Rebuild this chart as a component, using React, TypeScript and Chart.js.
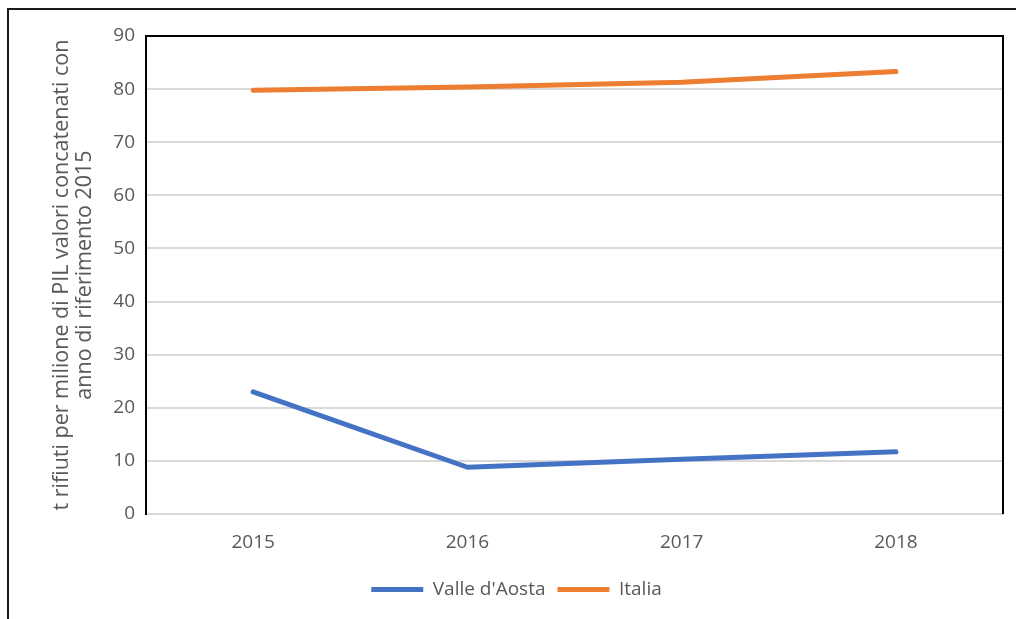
import React, { useEffect, useRef } from "react";
import { Chart, registerables } from "chart.js";

Chart.register(...registerables);

const categories = ["2015", "2016", "2017", "2018"];
const valleDAosta = [23.0, 8.8, 10.3, 11.7];
const italia = [79.8, 80.4, 81.3, 83.3];
const yTitle = ["t rifiuti per milione di PIL valori concatenati con", "anno di riferimento 2015"];
const seriesNames = ["Valle d'Aosta", "Italia"];

const FONT = "'Open Sans', 'Noto Sans', sans-serif";

const plotFrame = {
  id: "plotFrame",
  afterDraw(chart: any) {
    const { ctx, chartArea } = chart;
    const { left, top, right, bottom } = chartArea;
    ctx.save();
    ctx.strokeStyle = "#000000";
    ctx.lineWidth = 2;
    ctx.beginPath();
    ctx.moveTo(left, bottom);
    ctx.lineTo(left, top);
    ctx.lineTo(right, top);
    ctx.lineTo(right, bottom);
    ctx.stroke();
    ctx.restore();
  },
};

export default function App() {
  const ref = useRef<HTMLCanvasElement | null>(null);

  useEffect(() => {
    if (!ref.current) return;
    const chart = new Chart(ref.current, {
      type: "line",
      data: {
        labels: categories,
        datasets: [
          {
            label: seriesNames[0],
            data: valleDAosta,
            borderColor: "#4472C4",
            backgroundColor: "#4472C4",
            borderWidth: 5,
            pointRadius: 0,
            pointHoverRadius: 0,
            tension: 0,
            borderCapStyle: "round",
            borderJoinStyle: "round",
          },
          {
            label: seriesNames[1],
            data: italia,
            borderColor: "#ED7D31",
            backgroundColor: "#ED7D31",
            borderWidth: 5,
            pointRadius: 0,
            pointHoverRadius: 0,
            tension: 0,
            borderCapStyle: "round",
            borderJoinStyle: "round",
          },
        ],
      },
      options: {
        animation: false,
        responsive: false,
        maintainAspectRatio: false,
        layout: { padding: { top: 36, right: 13, left: 30, bottom: 10 } },
        plugins: {
          tooltip: { enabled: false },
          legend: {
            position: "bottom",
            labels: {
              usePointStyle: true,
              pointStyle: "line",
              pointStyleWidth: 52,
              color: "#595959",
              font: { family: FONT, size: 19 },
              padding: 12,
            },
          },
        },
        scales: {
          x: {
            offset: true,
            grid: { display: false, drawTicks: false },
            border: { display: true, color: "#D9D9D9", width: 2 },
            ticks: { color: "#595959", font: { family: FONT, size: 19 }, padding: 17 },
            afterFit(scale: any) {
              scale.height = 54;
            },
          },
          y: {
            min: 0,
            max: 90,
            ticks: { stepSize: 10, color: "#595959", font: { family: FONT, size: 19 }, padding: 11 },
            grid: { color: "#D9D9D9", lineWidth: 2, drawTicks: false },
            border: { display: true, color: "#000000", width: 2 },
            title: {
              display: true,
              text: yTitle,
              color: "#595959",
              font: { family: FONT, size: 21.5, lineHeight: 1.07 },
              padding: { top: 20, bottom: 0 },
            },
            afterFit(scale: any) {
              scale.width = 116;
            },
          },
        },
      },
      plugins: [plotFrame],
    });
    return () => chart.destroy();
  }, []);

  return (
    <div
      style={{
        position: "fixed",
        left: 0,
        top: 0,
        width: 1016,
        height: 619,
        overflow: "hidden",
        background: "#ffffff",
      }}
    >
      <div
        style={{
          position: "absolute",
          left: 7,
          top: 8,
          width: 1100,
          height: 700,
          border: "2px solid #1a1a1a",
        }}
      />
      <canvas
        ref={ref}
        width={1016}
        height={619}
        style={{ position: "absolute", left: 0, top: 0, width: 1016, height: 619 }}
      />
    </div>
  );
}
